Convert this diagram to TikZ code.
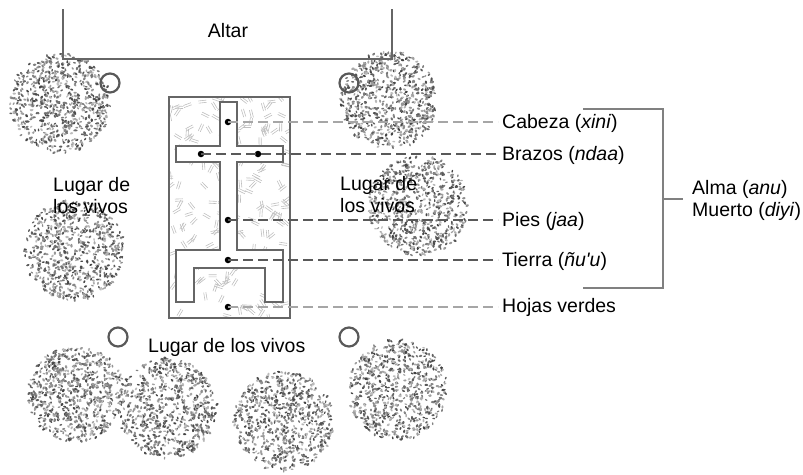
\documentclass[tikz,border=0pt]{standalone}
\usepackage{fontspec}
\setmainfont{Liberation Sans}

% stippled shrub: centre x, centre y, radius (all in pt)
\newcommand\shrub[3]{%
  \foreach \k in {1,...,700}{%
    \pgfmathsetmacro\sR{#3*sqrt(rnd)}%
    \pgfmathsetmacro\sA{360*rnd}%
    \pgfmathsetmacro\sB{360*rnd}%
    \pgfmathsetmacro\sW{1.2+1.0*rnd}%
    \pgfmathtruncatemacro\sG{25+50*rnd}%
    \draw[black!\sG, line width=\sW pt, line cap=round]
      (#1,#2) ++(\sA:\sR) -- ++(\sB:1.6);
  }}

\begin{document}
\begin{tikzpicture}[x=1pt, y=-1pt,
  lbl/.style={font=\fontsize{19.5}{22}\selectfont, inner sep=0pt},
  lab/.style={lbl, inner xsep=4pt},
  dotn/.style={circle, fill=black, inner sep=0pt, minimum size=6.5pt},
  ring/.style={draw=black!65, line width=2.2pt, circle, inner sep=0pt, minimum size=19pt},
  frame/.style={draw=black!60, line width=1.4pt},
  guide/.style={draw=black!65, line width=1.4pt, dash pattern=on 10pt off 5pt},
  guidelt/.style={draw=black!35, line width=1.4pt, dash pattern=on 10pt off 5pt},
  brk/.style={draw=black!50, line width=1.2pt},
]
\useasboundingbox (0,0) rectangle (803,474);
\pgfmathsetseed{4321}

% shrubs
\shrub{60}{103}{50}
\shrub{389}{100}{49}
\shrub{74}{250}{50}
\shrub{418}{206}{50}
\shrub{76}{394}{48}
\shrub{167}{408}{50}
\shrub{284}{421}{50}
\shrub{398}{390}{50}

% altar
\draw[frame] (63,9) -- (63,59) -- (392,59) -- (392,9);
\node[lbl, anchor=base] (altar) at (228,37) {Altar};

% candles
\node[ring] (c1) at (110,83) {};
\node[ring] (c2) at (349,83) {};
\node[ring] (c3) at (118,337) {};
\node[ring] (c4) at (349,337) {};

% grave plot with leaf hatching
\begin{scope}
  \clip (169,97) rectangle (290,318);
  \foreach \k in {1,...,190}{%
    \pgfmathsetmacro\hx{169+121*rnd}%
    \pgfmathsetmacro\hy{97+221*rnd}%
    \pgfmathsetmacro\ha{180*rnd}%
    \pgfmathsetmacro\hb{\ha+90}%
    \draw[black!25, line width=0.6pt]
      (\hx,\hy) ++(\ha:-4) -- ++(\ha:8) ++(\hb:2.2) -- ++(\ha:-8);
  }
\end{scope}
\draw[draw=black!60, line width=1.1pt] (169,97) rectangle (290,318);

% cross-shaped body
\filldraw[fill=white, draw=black!60, line width=1.1pt]
  (220,102) -- (237,102) -- (237,146) -- (283,146) -- (283,162) -- (237,162)
  -- (237,250) -- (283,250) -- (283,302) -- (265,302) -- (265,268) -- (194,268)
  -- (194,302) -- (176,302) -- (176,250) -- (220,250) -- (220,162) -- (176,162)
  -- (176,146) -- (220,146) -- cycle;

% places of the living
\node[lbl, align=left, anchor=west] (vivosL) at (53,196) {Lugar de\\los vivos};
\node[lbl, align=left, anchor=west] (vivosR) at (340,195) {Lugar de\\los vivos};
\node[lbl, anchor=base west] (vivosB) at (148,352) {Lugar de los vivos};

% body points
\node[dotn] (head) at (228,122) {};
\node[dotn] (armL) at (201,154) {};
\node[dotn] (armR) at (258,154) {};
\node[dotn] (feet) at (228,220) {};
\node[dotn] (earth) at (228,260) {};
\node[dotn] (leaves) at (228,307) {};

% labels
\node[lab, anchor=base west] (cabeza) at (498,128) {Cabeza (\textit{xini})};
\node[lab, anchor=base west] (brazos) at (498,160) {Brazos (\textit{ndaa})};
\node[lab, anchor=base west] (pies) at (498,226) {Pies (\textit{jaa})};
\node[lab, anchor=base west] (tierra) at (498,266) {Tierra (\textit{ñu\textquotesingle u})};
\node[lab, anchor=base west] (hojas) at (498,312) {Hojas verdes};

% leader lines
\draw[guidelt] (head.center) -- (head.center -| cabeza.west);
\draw[guide] (armL.center) -- (armL.center -| brazos.west);
\draw[guide] (feet.center) -- (feet.center -| pies.west);
\draw[guide] (earth.center) -- (earth.center -| tierra.west);
\draw[guidelt] (leaves.center) -- (leaves.center -| hojas.west);

% bracket grouping the parts
\coordinate (bt) at (583,109);
\coordinate (btr) at (663,109);
\coordinate (bbr) at (663,288);
\coordinate (bb) at (583,288);
\coordinate (bm) at (663,199);
\coordinate (bmt) at (683,199);
\draw[brk] (bt) -- (btr) -- (bbr) -- (bb);
\draw[brk] (bm) -- (bmt);
\node[lbl, anchor=base west] (alma) at (692,194) {Alma (\textit{anu})};
\node[lbl, anchor=base west] (muerto) at (692,216) {Muerto (\textit{diyi})};
\end{tikzpicture}
\end{document}
